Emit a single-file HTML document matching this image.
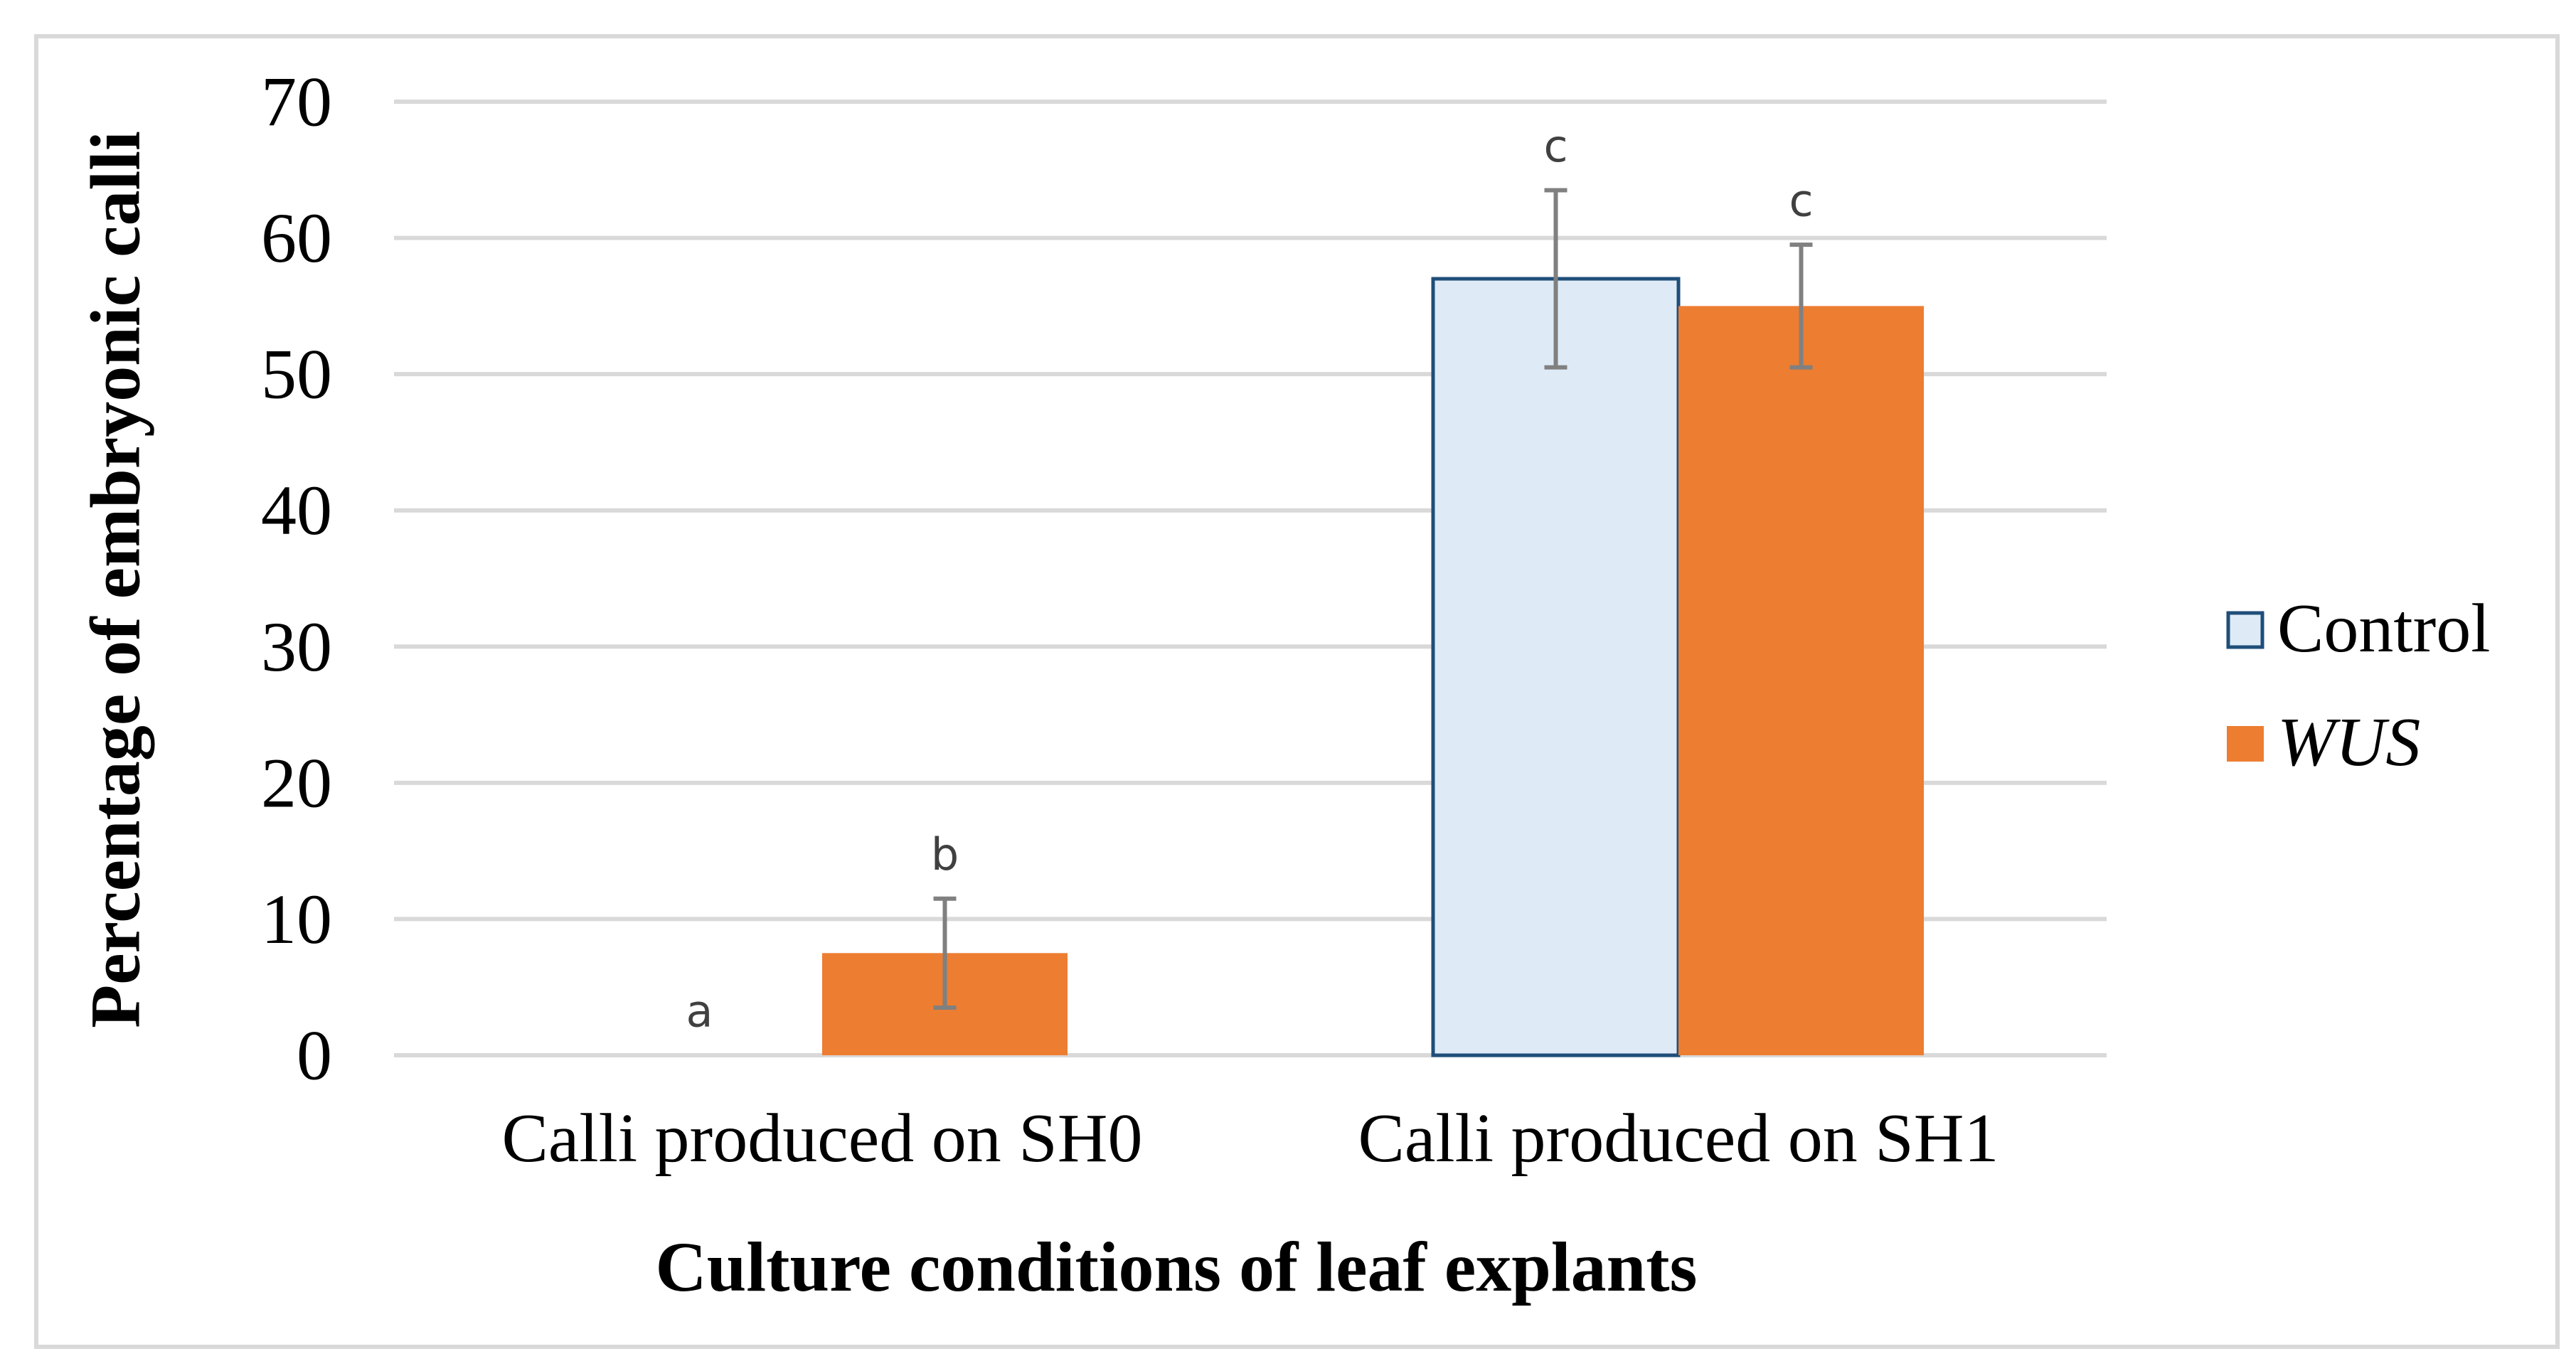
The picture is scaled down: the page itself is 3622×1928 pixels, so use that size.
<!DOCTYPE html>
<html><head><meta charset="utf-8"><style>
html,body{margin:0;padding:0;background:#fff;}
svg{display:block;}
</style></head><body>
<svg width="3622" height="1928" viewBox="0 0 3622 1928" xmlns="http://www.w3.org/2000/svg">
<rect x="51" y="51" width="3545" height="1843" fill="#fff" stroke="#d9d9d9" stroke-width="6"/>
<g id="grid"></g>
<g id="yticks"></g>
<g id="bars"></g>
<g id="errs"></g>
<g id="letters"></g>
<g id="xlabels"></g>
<text x="162" y="815" transform="rotate(-90 162 815)" text-anchor="middle" dominant-baseline="central" font-family="Liberation Serif, serif" font-weight="bold" font-size="100">Percentage of embryonic calli</text>
<text x="1654" y="1815" text-anchor="middle" font-family="Liberation Serif, serif" font-weight="bold" font-size="100">Culture conditions of leaf explants</text>
<g>
<rect x="3133" y="862" width="48" height="48" fill="#deebf7" stroke="#1f4e79" stroke-width="5"/>
<text x="3202" y="916" font-family="Liberation Serif, serif" font-size="98">Control</text>
<rect x="3131" y="1021" width="52" height="50" fill="#ed7d31"/>
<text x="3202" y="1076" font-family="Liberation Serif, serif" font-style="italic" font-size="98">WUS</text>
</g>
</svg>
<script>
const categories = ["Calli produced on SH0", "Calli produced on SH1"];
const seriesNames = ["Control", "WUS"];
const controlValues = [0, 57];
const wusValues = [7.5, 55];
const controlErr = [0, 6.5];
const wusErr = [4, 4.5];
const controlLetters = ["a", "c"];
const wusLetters = ["b", "c"];
const yTicks = [0, 10, 20, 30, 40, 50, 60, 70];

const NS = "http://www.w3.org/2000/svg";
const x0 = 554, x1 = 2962, yBase = 1484, yTop = 143, yMax = 70;
const yScale = v => yBase - (v / yMax) * (yBase - yTop);
const catW = (x1 - x0) / categories.length;
const barW = 345;
const catCenter = i => x0 + catW * (i + 0.5);
function mk(tag, attrs, parent) {
  const e = document.createElementNS(NS, tag);
  for (const k in attrs) e.setAttribute(k, attrs[k]);
  parent.appendChild(e);
  return e;
}
const grid = document.getElementById('grid');
const yt = document.getElementById('yticks');
yTicks.forEach(t => {
  const l = mk('line', {x1: x0, x2: x1, y1: yScale(t), y2: yScale(t), stroke: '#d9d9d9', 'stroke-width': 6}, grid);
  
  
  const tx = mk('text', {x: 467, y: yScale(t), 'text-anchor': 'end', 'dominant-baseline': 'central', 'font-family': 'Liberation Serif, serif', 'font-size': 100}, yt);
  tx.textContent = t;
  
  
});
const bars = document.getElementById('bars'), errs = document.getElementById('errs'), lets = document.getElementById('letters'), xl = document.getElementById('xlabels');
const series = [
  {vals: controlValues, err: controlErr, lets: controlLetters, fill: '#deebf7', stroke: '#1f4e79', off: -1, name: 'control'},
  {vals: wusValues, err: wusErr, lets: wusLetters, fill: '#ed7d31', stroke: 'none', off: 0, name: 'wus'}
];
categories.forEach((c, i) => {
  const cx = catCenter(i);
  series.forEach(s => {
    const bx = cx + s.off * barW;
    const v = s.vals[i];
    if (v > 0) {
      const r = mk('rect', {x: bx, y: yScale(v), width: barW, height: yBase - yScale(v), fill: s.fill, stroke: s.stroke, 'stroke-width': s.stroke === 'none' ? 0 : 5}, bars);
      
      
    }
    const ex = bx + barW / 2;
    let topY = yScale(v);
    if (s.err[i] > 0) {
      const hi = yScale(v + s.err[i]), lo = yScale(v - s.err[i]);
      topY = hi;
      const g = mk('g', {stroke: '#808080', 'stroke-width': 6}, errs);
      
      
      mk('line', {x1: ex, x2: ex, y1: hi, y2: lo}, g);
      mk('line', {x1: ex - 16, x2: ex + 16, y1: hi, y2: hi}, g);
      mk('line', {x1: ex - 16, x2: ex + 16, y1: lo, y2: lo}, g);
    }
    const t = mk('text', {x: ex, y: topY - 62, 'text-anchor': 'middle', 'dominant-baseline': 'central', 'font-family': 'DejaVu Sans, Liberation Sans, sans-serif', 'font-size': 62, fill: '#404040'}, lets);
    t.textContent = s.lets[i];
    
    
  });
  const lab = mk('text', {x: cx, y: 1633, 'text-anchor': 'middle', 'font-family': 'Liberation Serif, serif', 'font-size': 98}, xl);
  lab.textContent = c;
  
  
});
</script>
</body></html>
